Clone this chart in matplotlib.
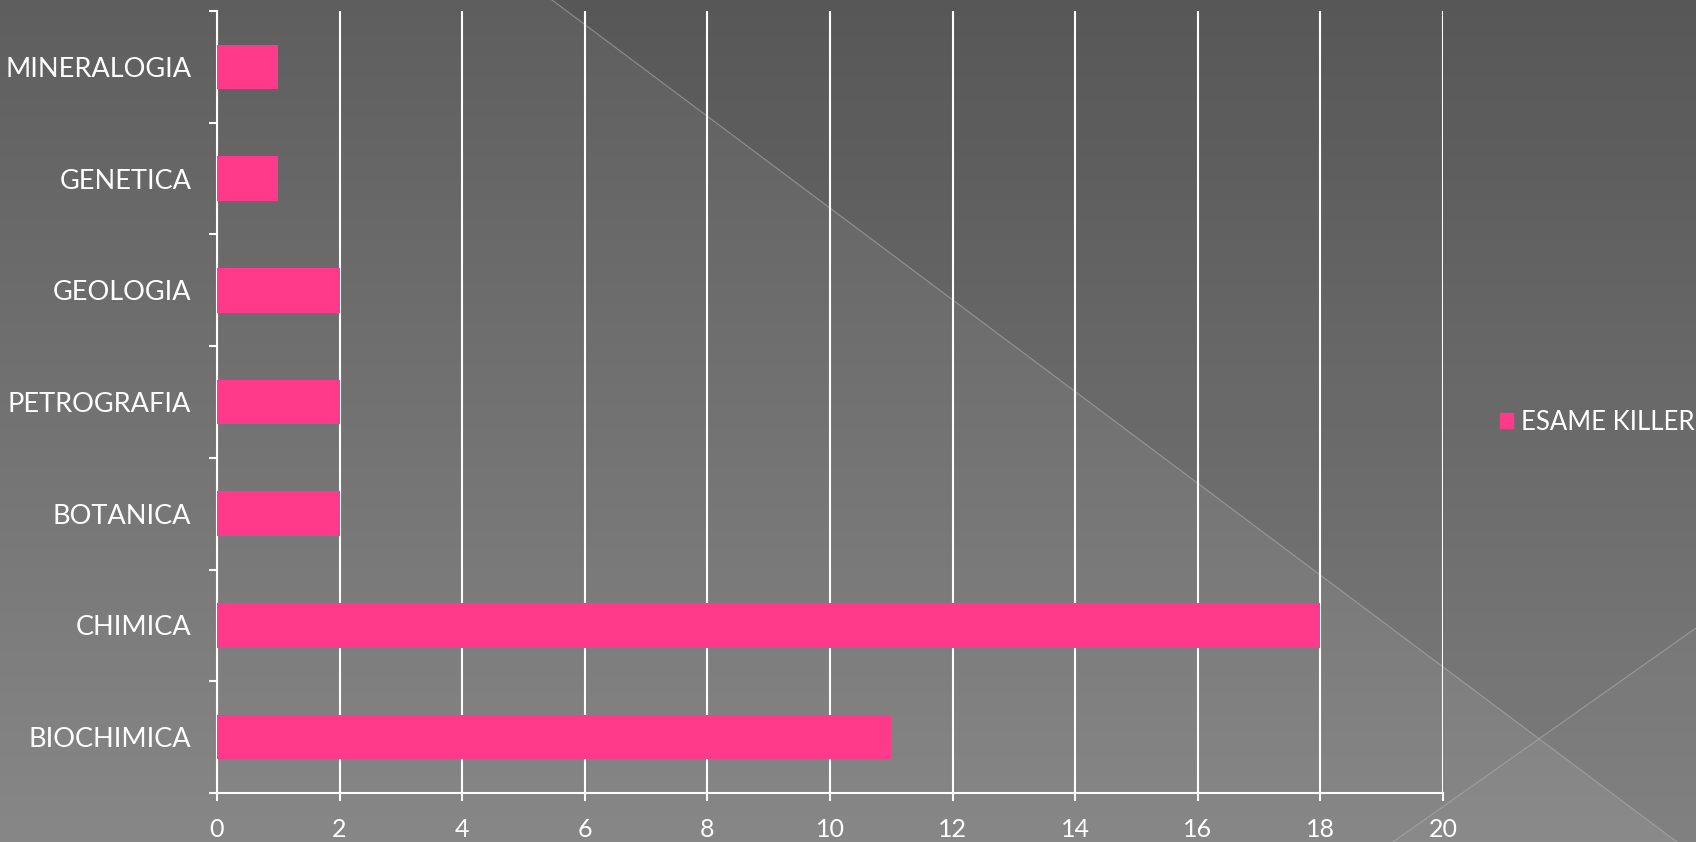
import numpy as np
import matplotlib
matplotlib.use("Agg")
import matplotlib.pyplot as plt
from matplotlib.patches import Polygon, Patch

categories = ["BIOCHIMICA", "CHIMICA", "BOTANICA", "PETROGRAFIA", "GEOLOGIA", "GENETICA", "MINERALOGIA"]
values = [11, 18, 2, 2, 2, 1, 1]
series_name = "ESAME KILLER"
x_ticks = [0, 2, 4, 6, 8, 10, 12, 14, 16, 18, 20]

W, H = 1696, 842
plt.rcParams["font.family"] = ["Lato", "DejaVu Sans"]

fig = plt.figure(figsize=(W / 100, H / 100), dpi=100)

# slide background: vertical gray gradient with two diagonal theme lines
bg = fig.add_axes([0, 0, 1, 1], zorder=-10)
grad = np.linspace(0, 1, 256).reshape(-1, 1)
top, bottom = np.array([0.37, 0.37, 0.37]), np.array([0.53, 0.53, 0.53])
img = top + (bottom - top) * grad[..., None]
bg.imshow(img, extent=[0, W, H, 0], aspect="auto")
bg.add_patch(Polygon([(552, 0), (W, 0), (W, H), (1677, H)], closed=True,
                     facecolor="black", alpha=0.07, lw=0))
bg.add_patch(Polygon([(1393, H), (W, 628), (W, H)], closed=True,
                     facecolor="white", alpha=0.03, lw=0))
bg.plot([552, 1677], [0, H], color="#b0b0b0", lw=0.8, alpha=0.6)
bg.plot([1393, W], [H, 628], color="#b0b0b0", lw=0.8, alpha=0.6)
bg.set_xlim(0, W)
bg.set_ylim(H, 0)
bg.axis("off")

ax = fig.add_axes([217 / W, 1 - 793 / H, (1443 - 217) / W, (793 - 11) / H])
ax.set_facecolor("none")
y = np.arange(len(categories))
ax.barh(y, values, height=0.4, color="#ff3a8a", label=series_name, zorder=3)

ax.set_xlim(0, 20)
ax.set_ylim(-0.5, len(categories) - 0.5)
ax.set_xticks(x_ticks)
ax.set_yticks(y)
ax.set_yticklabels(categories)
ax.set_yticks(np.arange(-0.5, len(categories)), minor=True)
ax.tick_params(axis="y", which="major", length=0, pad=18.5, labelsize=19.5, labelcolor="white")
ax.tick_params(axis="y", which="minor", length=6, width=1.5, color="white")
ax.tick_params(axis="x", length=6, width=1.5, color="white", pad=12,
               labelsize=18, labelcolor="white")
ax.grid(axis="x", color="white", lw=1.5, zorder=1)
for s in ["top", "right"]:
    ax.spines[s].set_visible(False)
for s in ["left", "bottom"]:
    ax.spines[s].set_color("white")
    ax.spines[s].set_linewidth(1.5)

fig.legend(handles=[Patch(color="#ff3a8a", label=series_name)],
           loc="center left", bbox_to_anchor=(1500 / W, 1 - 422 / H),
           frameon=False, fontsize=18.5, labelcolor="white",
           borderaxespad=0, borderpad=0,
           handlelength=0.5, handleheight=0.5, handletextpad=0.3)

fig.savefig("out.png", dpi=100)
